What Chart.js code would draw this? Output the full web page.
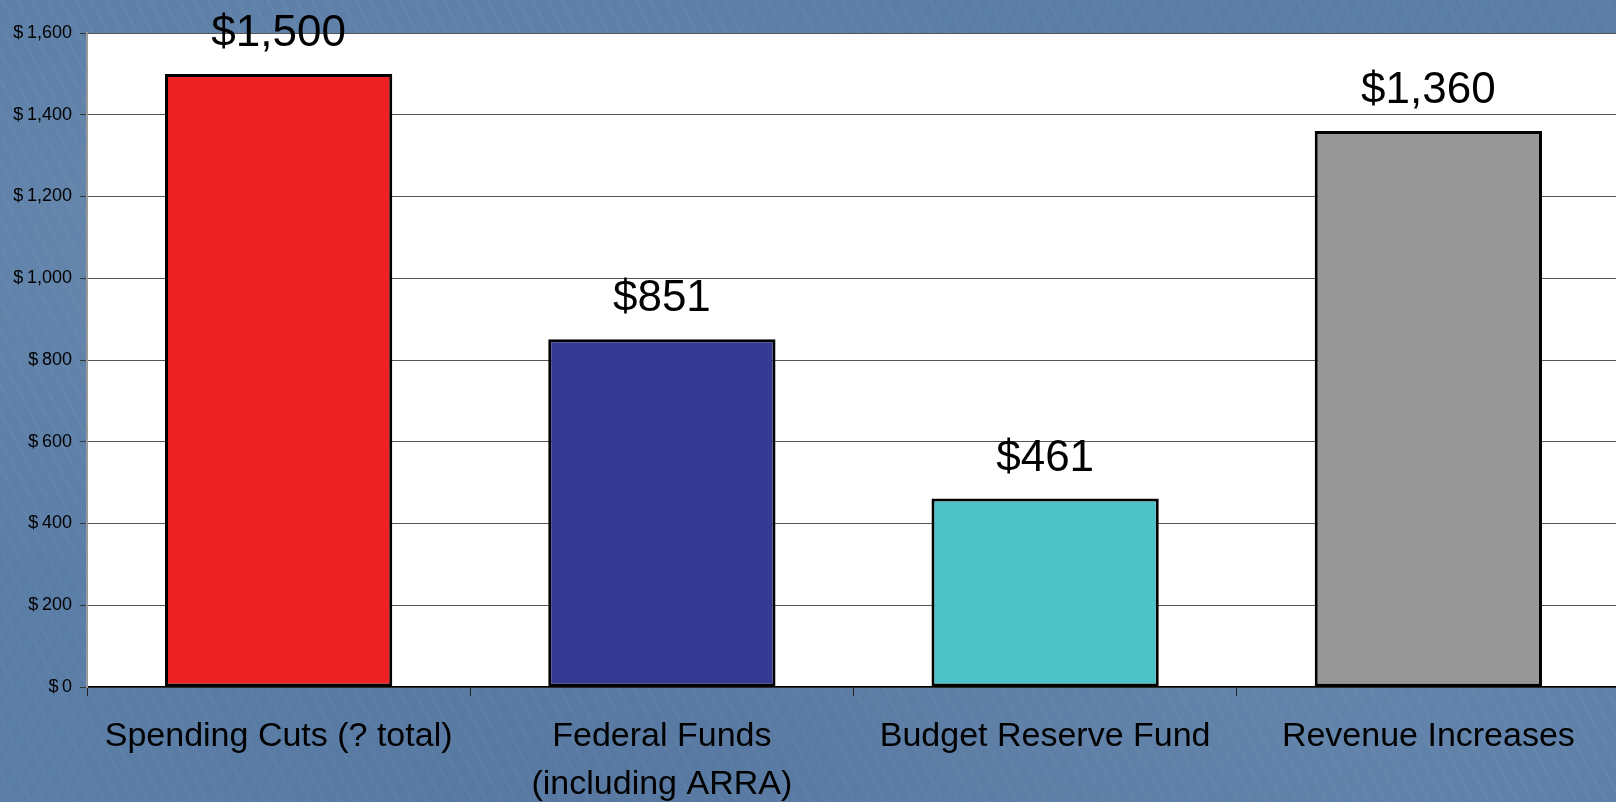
<!DOCTYPE html>
<html>
<head>
<meta charset="utf-8">
<script src="https://cdn.jsdelivr.net/npm/chart.js@4"></script>
<style>
  html, body { margin: 0; padding: 0; }
  body {
    width: 1616px; height: 802px; overflow: hidden;
    background-color: #5b7ea7;
    background-image:
      repeating-linear-gradient(62deg, rgba(255,255,255,0.025) 0 3px, transparent 3px 13px),
      radial-gradient(ellipse at 20% 30%, rgba(255,255,255,0.07), transparent 45%),
      radial-gradient(ellipse at 75% 80%, rgba(255,255,255,0.06), transparent 50%),
      radial-gradient(ellipse at 45% 95%, rgba(30,50,90,0.10), transparent 55%);
  }
  canvas { display: block; }
</style>
</head>
<body>
<!-- canvas is a little wider than the page: the slide's plot runs off the right edge -->
<canvas id="chart" width="1620" height="802"></canvas>
<script>
// ── Data ───────────────────────────────────────────────
const categories = [
  'Spending Cuts (? total)',
  ['Federal Funds', '(including ARRA)'],
  'Budget Reserve Fund',
  'Revenue Increases',
];
const amounts = [1500, 851, 461, 1360];
const barColors = ['#ed2124', '#373a95', '#4bc3c7', '#979797'];
const yTicks = [0, 200, 400, 600, 800, 1000, 1200, 1400, 1600];

const FONT = '"Liberation Sans", Arial, Helvetica, sans-serif';

function money(v) {
  return '$' + Number(v).toLocaleString('en-US');
}

// white plot area behind the bars
const plotBackground = {
  id: 'plotBackground',
  beforeDraw(chart) {
    const { ctx, chartArea: a } = chart;
    ctx.save();
    ctx.fillStyle = '#ffffff';
    ctx.fillRect(a.left, a.top, a.right - a.left, a.bottom - a.top);
    ctx.restore();
  },
};

// value labels above each bar
const valueLabels = {
  id: 'valueLabels',
  afterDatasetsDraw(chart) {
    const { ctx } = chart;
    const meta = chart.getDatasetMeta(0);
    ctx.save();
    ctx.font = '44px ' + FONT;
    ctx.fillStyle = '#000';
    ctx.textAlign = 'center';
    ctx.textBaseline = 'alphabetic';
    meta.data.forEach((bar, i) => {
      ctx.fillText(money(amounts[i]), bar.x, bar.y - 28);
    });
    ctx.restore();
  },
};

new Chart(document.getElementById('chart'), {
  type: 'bar',
  data: {
    labels: categories,
    datasets: [{
      data: amounts,
      backgroundColor: barColors,
      borderColor: '#000',
      borderWidth: 3,
      borderSkipped: false,
      categoryPercentage: 1,
      barPercentage: 0.593,
    }],
  },
  options: {
    responsive: false,
    animation: false,
    layout: { padding: { top: 33, right: 0, bottom: 0, left: 0 } },
    plugins: { legend: { display: false }, tooltip: { enabled: false } },
    scales: {
      x: {
        afterFit: (s) => { s.height = 115; },
        grid: {
          offset: true,
          drawOnChartArea: false,
          drawTicks: true,
          tickLength: 9,
          tickColor: '#222',
        },
        border: { color: '#000', width: 1.5 },
        ticks: {
          color: '#000',
          padding: 16,
          maxRotation: 0,
          autoSkip: false,
          font: { family: FONT, size: 34, lineHeight: 1.43 },
        },
      },
      y: {
        min: 0,
        max: 1600,
        afterFit: (s) => { s.width = 87; },
        afterBuildTicks: (s) => { s.ticks = yTicks.map(v => ({ value: v })); },
        grid: {
          color: '#555',
          lineWidth: 1,
          tickLength: 7,
          tickColor: '#333',
        },
        border: { color: '#999', width: 2 },
        ticks: {
          color: '#000',
          padding: 8,
          font: { family: FONT, size: 18 },
          callback: (v) => '$\u2009' + Number(v).toLocaleString('en-US'),
        },
      },
    },
  },
  plugins: [plotBackground, valueLabels],
});
</script>
</body>
</html>
